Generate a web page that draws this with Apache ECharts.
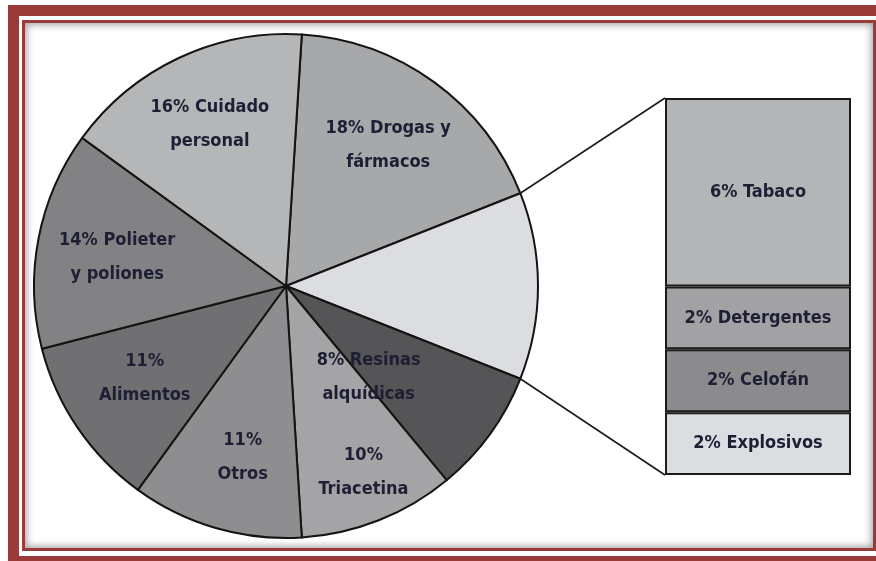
<!DOCTYPE html>
<html>
<head>
<meta charset="utf-8">
<script src="https://cdn.jsdelivr.net/npm/echarts@6/dist/echarts.min.js"></script>
<style>
  html, body { margin: 0; padding: 0; background: #ffffff; }
  #wrap { position: relative; width: 876px; height: 561px; overflow: hidden; background: #fff; }
  #outer { position: absolute; left: 8px; top: 5px; width: 900px; height: 540px; border: 11px solid #993b39; }
  #inner { position: absolute; left: 22px; top: 20px; width: 848px; height: 525px; border: 3px solid #993b39;
           box-shadow: inset 0 0 7px 2px rgba(0,0,0,0.35); background: #fff; }
  #chart { position: absolute; left: 0; top: 0; width: 876px; height: 561px; }
</style>
</head>
<body>
<div id="wrap">
  <div id="outer"></div>
  <div id="inner"></div>
  <div id="chart"></div>
</div>
<script>
// ---- data ----
var pieNames = ['Drogas y fármacos', 'Otros usos', 'Resinas alquídicas', 'Triacetina', 'Otros', 'Alimentos', 'Polieter y poliones', 'Cuidado personal'];
var pieLabels = ['18% Drogas y\nfármacos', '', '8% Resinas\nalquídicas', '10%\nTriacetina', '11%\nOtros', '11%\nAlimentos', '14% Polieter\ny poliones', '16% Cuidado\npersonal'];
var pieValues = [18, 12, 8, 10, 11, 11, 14, 16];
var barNames = ['Explosivos', 'Celofán', 'Detergentes', 'Tabaco'];
var barLabels = ['2% Explosivos', '2% Celofán', '2% Detergentes', '6% Tabaco'];
var barValues = [2, 2, 2, 6];

// ---- styles / layout ----
var pieColors = ['#a7a8aa', '#dcdde0', '#555557', '#a4a4a6', '#8e8e90', '#707072', '#828284', '#b5b6b8'];
var barColors = ['#dcdde0', '#8b8b8d', '#a2a2a4', '#b4b5b7'];
var textColor = '#1e1e34';
var fontFam = '"Liberation Sans Narrow", "DejaVu Sans Condensed", "Roboto Condensed", sans-serif';
var fontSize = 18;
var cx = 286, cy = 286, R = 252;
var startAngle = 86.4;
var grid = { left: 665, top: 98, width: 186, height: 377 };
// label placement: radial fraction and angle shift (deg) per slice
var labelAdj = [
  { f: 0.69, d: 0 }, { f: 0.6, d: 0 }, { f: 0.49, d: -12 }, { f: 0.80, d: 1 },
  { f: 0.70, d: 2 }, { f: 0.67, d: -1 }, { f: 0.68, d: 1 }, { f: 0.71, d: 0 }
];

var total = pieValues.reduce(function (a, b) { return a + b; }, 0);
var cum = [], acc = 0;
pieValues.forEach(function (v) { cum.push(acc); acc += v; });
function angOf(idx, frac) { // degrees, math convention
  return startAngle - (cum[idx] + pieValues[idx] * frac) / total * 360;
}
function pt(angDeg, r) {
  var a = angDeg * Math.PI / 180;
  return [cx + r * Math.cos(a), cy - r * Math.sin(a)];
}

var chart = echarts.init(document.getElementById('chart'), null, { renderer: 'canvas' });

var pieData = pieValues.map(function (v, i) {
  return { name: pieNames[i], value: v, itemStyle: { color: pieColors[i] },
           label: { formatter: pieLabels[i] } };
});

var barSeries = barValues.map(function (v, i) {
  return {
    type: 'bar', stack: 'rest', name: barNames[i], data: [v], barWidth: '100%',
    silent: true,
    itemStyle: { color: barColors[i], borderColor: '#1a1a1a', borderWidth: 2 },
    label: { show: true, position: 'inside', formatter: barLabels[i], color: textColor,
             fontFamily: fontFam, fontWeight: 'bold', fontSize: fontSize }
  };
});

// connector lines from the "Otros usos" slice edge to the bar
var restIdx = 1;
var pTop = pt(angOf(restIdx, 0), R);
var pBot = pt(angOf(restIdx, 1), R);
var barTL = [grid.left, grid.top];
var barBL = [grid.left, grid.top + grid.height];

var option = {
  animation: false,
  backgroundColor: 'transparent',
  grid: grid,
  xAxis: { type: 'category', data: ['resto'], show: false },
  yAxis: { type: 'value', min: 0, max: 12, show: false },
  graphic: [
    { type: 'line', shape: { x1: pTop[0], y1: pTop[1], x2: barTL[0], y2: barTL[1] },
      style: { stroke: '#1a1a1a', lineWidth: 1.6 }, z: 10 },
    { type: 'line', shape: { x1: pBot[0], y1: pBot[1], x2: barBL[0], y2: barBL[1] },
      style: { stroke: '#1a1a1a', lineWidth: 1.6 }, z: 10 }
  ],
  series: [{
    type: 'pie',
    center: [cx, cy],
    radius: [0, R],
    startAngle: startAngle,
    clockwise: true,
    silent: true,
    data: pieData,
    itemStyle: { borderColor: '#141414', borderWidth: 2 },
    label: { show: true, position: 'inside', color: textColor, fontFamily: fontFam,
             fontWeight: 'bold', fontSize: fontSize, lineHeight: 34, align: 'center' },
    labelLine: { show: false },
    labelLayout: function (p) {
      var i = p.dataIndex;
      var a = angOf(i, 0.5) + labelAdj[i].d;
      var q = pt(a, R * labelAdj[i].f);
      return { x: q[0], y: q[1], align: 'center', verticalAlign: 'middle' };
    }
  }].concat(barSeries)
};
chart.setOption(option);
</script>
</body>
</html>
